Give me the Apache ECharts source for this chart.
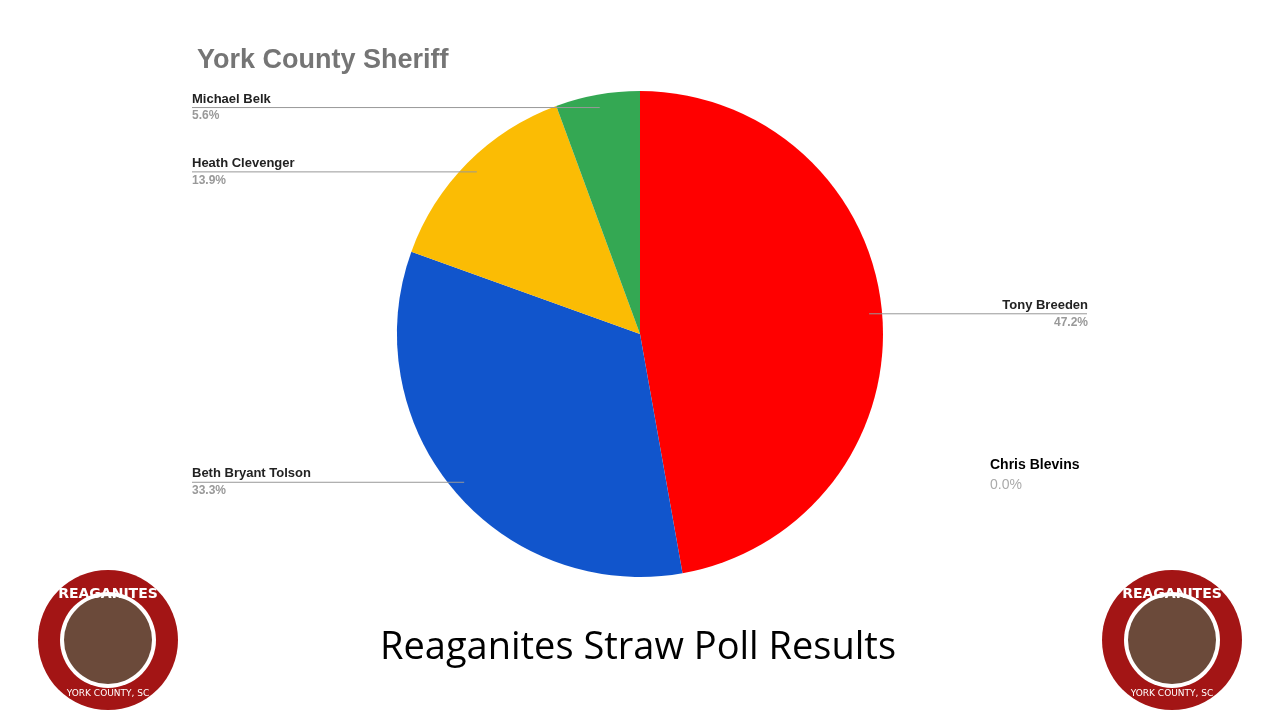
<!DOCTYPE html>
<html><head><meta charset="utf-8">
<script src="https://cdn.jsdelivr.net/npm/echarts@6/dist/echarts.min.js"></script>
<style>html,body{margin:0;padding:0;background:#fff}#c{width:1280px;height:720px}</style>
</head><body><div id="c"></div>
<script>
const names = ['Tony Breeden','Chris Blevins','Beth Bryant Tolson','Heath Clevenger','Michael Belk'];
const values = [47.2, 0.0, 33.3, 13.9, 5.6];
const colors = ['#ff0000','#ff9900','#1155cc','#fbbc04','#34a853'];
const chart = echarts.init(document.getElementById('c'));
const data = names.map((n,i)=>({name:n,value:values[i],itemStyle:{color:colors[i]}}));
function logo(cx){
  return [
    {type:'circle',shape:{cx:cx,cy:640,r:70},style:{fill:'#a31515'},z:10},
    {type:'circle',shape:{cx:cx,cy:640,r:48},style:{fill:'#fff'},z:11},
    {type:'circle',shape:{cx:cx,cy:640,r:44},style:{fill:'#6b4a3a'},z:12},
    {type:'text',x:cx,y:594,style:{text:'REAGANITES',fill:'#fff',font:'bold 14px "DejaVu Sans"',align:'center',verticalAlign:'middle'},z:13},
    {type:'text',x:cx,y:694,style:{text:'YORK COUNTY, SC',fill:'#fff',font:'9px "DejaVu Sans"',align:'center',verticalAlign:'middle'},z:13}
  ];
}
chart.setOption({
  animation:false,
  title:{text:'York County Sheriff',left:192,top:42,textStyle:{fontFamily:'Liberation Sans',fontSize:27,fontWeight:'bold',color:'#757575'}},
  series:[
    {type:'pie',center:[640,334],radius:[0,243],startAngle:90,clockwise:true,data:data,label:{show:false},labelLine:{show:false},silent:true,itemStyle:{borderWidth:0}},
    {type:'pie',center:[640,334],radius:[0,230],startAngle:90,clockwise:true,avoidLabelOverlap:false,
     data:data.map(d=>Object.assign({},d,{itemStyle:{color:'rgba(0,0,0,0)'}, label:{show:d.value>0}, labelLine:{show:d.value>0}})),
     silent:true,z:5,
     label:{alignTo:'edge',edgeDistance:192,formatter:p=>'{n|'+p.name+'}\n{v|'+p.value.toFixed(1)+'%}',
       rich:{n:{fontFamily:'Liberation Sans',fontSize:13,fontWeight:'bold',color:'#222',lineHeight:17},
             v:{fontFamily:'Liberation Sans',fontSize:12,fontWeight:'bold',color:'#999',lineHeight:17}}},
     labelLine:{length:0,length2:10,lineStyle:{color:'#999',width:1}},
     labelLayout:function(p){
       const pts=p.labelLinePoints; if(!pts) return {};
       const s=pts[0]; const left=s[0]<640;
       return {labelLinePoints:[[s[0],s[1]],[left?192:1087,s[1]]]};
     }}
  ],
  graphic:[
    {type:'text',left:990,top:458,style:{text:names[1],fill:'#000',font:'bold 14px "Liberation Sans"'}},
    {type:'text',left:990,top:478,style:{text:values[1].toFixed(1)+'%',fill:'#aaa',font:'14px "Liberation Sans"'}},
    {type:'text',x:638,y:648,style:{text:'Reaganites Straw Poll Results',fill:'#000',font:'38px "Open Sans"',align:'center',verticalAlign:'middle'}}
  ].concat(logo(108),logo(1172))
});
</script></body></html>
